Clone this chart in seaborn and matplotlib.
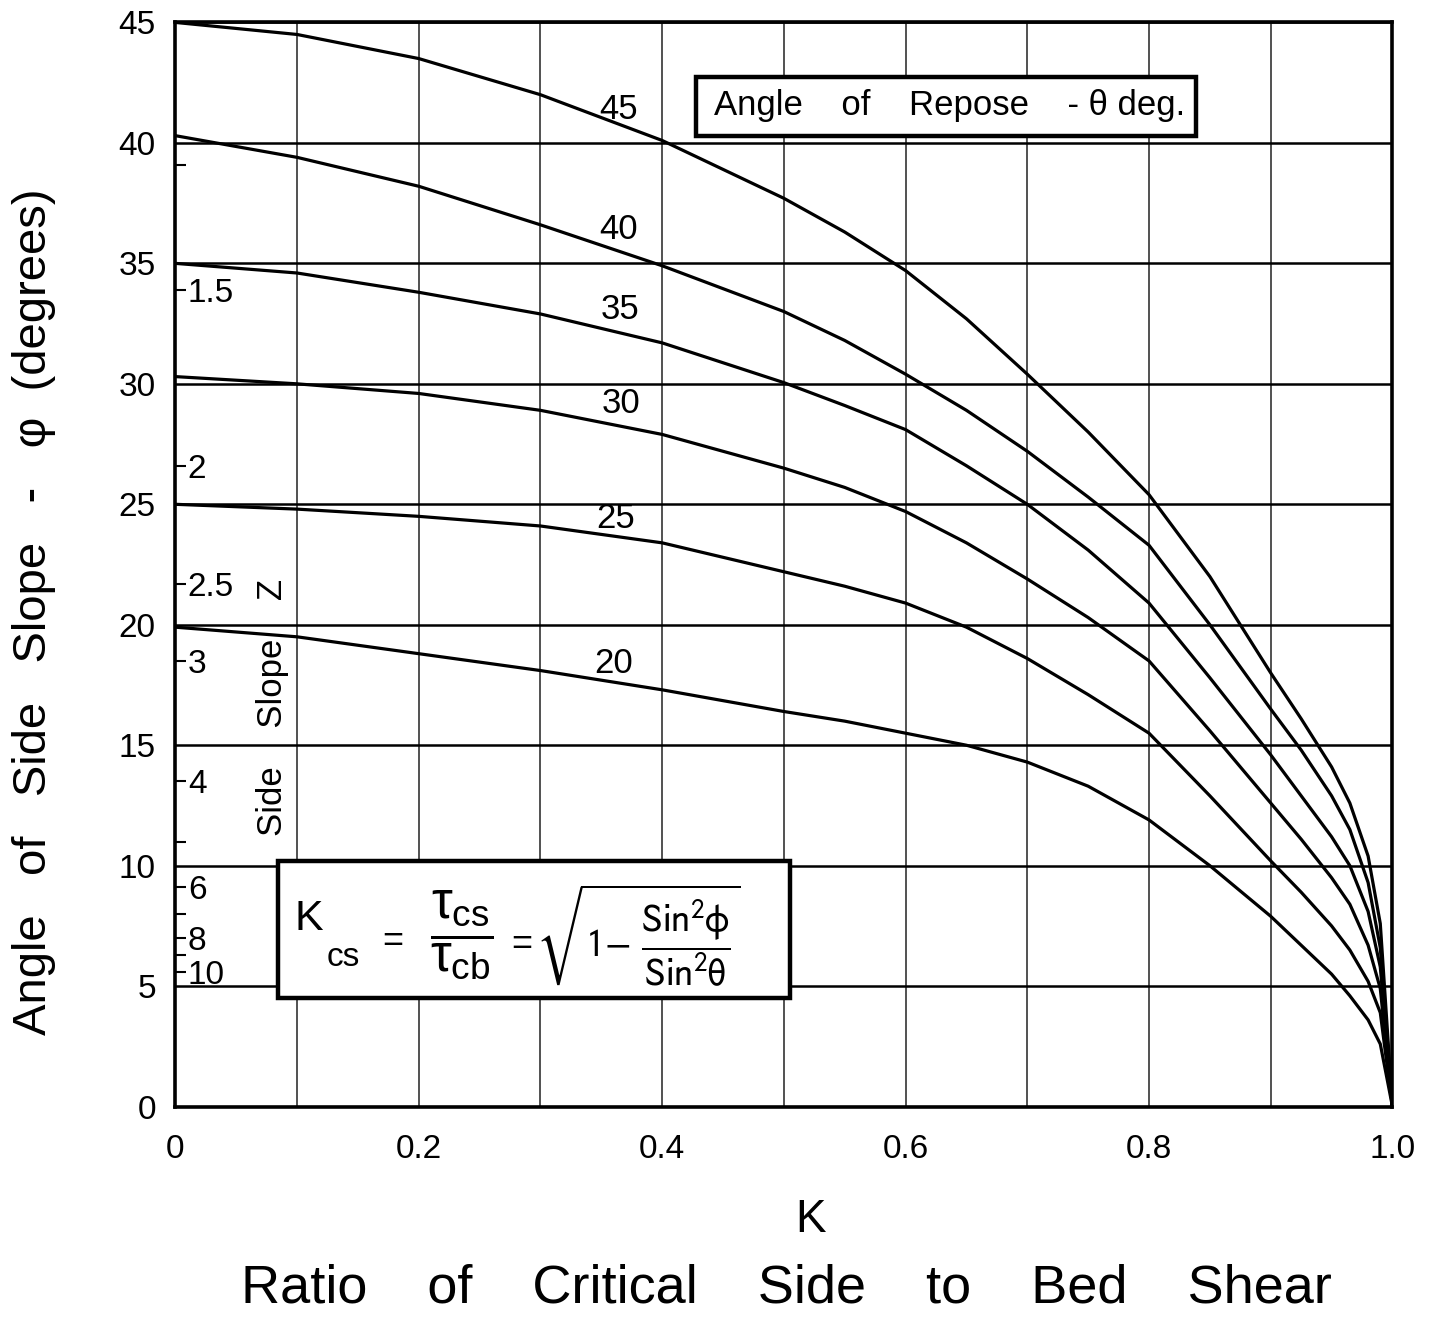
import numpy as np
import pandas as pd
import matplotlib
matplotlib.use("Agg")
import matplotlib.pyplot as plt
from matplotlib.patches import Rectangle
import seaborn as sns

# ---------------- data ----------------
k_ratio = [0, 0.1, 0.2, 0.3, 0.4, 0.5, 0.55, 0.6, 0.65, 0.7, 0.75, 0.8, 0.85,
           0.9, 0.925, 0.95, 0.965, 0.98, 0.99, 1.0]
phi_45 = [45.0, 44.5, 43.5, 42.0, 40.1, 37.7, 36.3, 34.7, 32.7, 30.4, 28.0, 25.4, 22.0,
          18.0, 16.1, 14.1, 12.6, 10.4, 7.6, 0.0]
phi_40 = [40.3, 39.4, 38.2, 36.6, 34.9, 33.0, 31.8, 30.4, 28.9, 27.2, 25.3, 23.3, 20.0,
          16.5, 14.8, 12.9, 11.5, 9.3, 6.6, 0.0]
phi_35 = [35.0, 34.6, 33.8, 32.9, 31.7, 30.05, 29.1, 28.1, 26.6, 25.0, 23.1, 20.9, 17.8,
          14.6, 12.9, 11.2, 10.0, 8.1, 5.8, 0.0]
phi_30 = [30.3, 30.0, 29.6, 28.9, 27.9, 26.5, 25.7, 24.7, 23.4, 21.9, 20.3, 18.5, 15.6,
          12.6, 11.1, 9.5, 8.4, 6.7, 4.9, 0.0]
phi_25 = [25.0, 24.8, 24.5, 24.1, 23.4, 22.2, 21.6, 20.9, 19.9, 18.6, 17.1, 15.5, 12.9,
          10.2, 8.9, 7.5, 6.5, 5.2, 3.9, 0.0]
phi_20 = [19.9, 19.5, 18.8, 18.1, 17.3, 16.4, 16.0, 15.5, 15.0, 14.3, 13.3, 11.9, 10.0,
          7.9, 6.7, 5.5, 4.6, 3.6, 2.6, 0.0]

curve_label_text = ["45", "40", "35", "30", "25", "20"]
curve_label_k = [0.364, 0.364, 0.365, 0.366, 0.362, 0.360]
curve_label_phi = [41.4, 36.4, 33.1, 29.2, 24.4, 18.4]

y_ticks = [0, 5, 10, 15, 20, 25, 30, 35, 40, 45]
y_ticklabels = ["0", "5", "10", "15", "20", "25", "30", "35", "40", "45"]
x_ticks = [0, 0.2, 0.4, 0.6, 0.8, 1.0]
x_ticklabels = ["0", "0.2", "0.4", "0.6", "0.8", "1.0"]
x_minor = [0.1, 0.3, 0.5, 0.7, 0.9]

# side slope Z scale (inside the left axis)
z_angles = [39.1, 33.9, 26.6, 21.7, 18.5, 13.5, 11.0, 9.1, 8.0, 7.0, 6.3, 5.6]
z_labels = ["", "1.5", "2", "2.5", "3", "4", "", "6", "", "8", "", "10"]

series = {45: phi_45, 40: phi_40, 35: phi_35, 30: phi_30, 25: phi_25, 20: phi_20}
df = pd.concat(
    [pd.DataFrame({"K": k_ratio, "phi": v, "theta": t}) for t, v in series.items()],
    ignore_index=True,
)

# ---------------- style ----------------
sns.set_style("white")
plt.rcParams["font.family"] = ["Liberation Sans", "DejaVu Sans"]
plt.rcParams["mathtext.fontset"] = "custom"
plt.rcParams["mathtext.rm"] = "Liberation Sans"
plt.rcParams["mathtext.it"] = "Liberation Sans"
plt.rcParams["mathtext.bf"] = "Liberation Sans:bold"
for key in ["text.color", "axes.labelcolor", "xtick.color", "ytick.color"]:
    plt.rcParams[key] = "black"

fig = plt.figure(figsize=(14.37, 13.19), dpi=100)
ax = fig.add_axes([0.122, 0.161, 0.847, 0.822])

sns.lineplot(data=df, x="K", y="phi", hue="theta", palette=["black"] * 6,
             legend=False, linewidth=2.3, errorbar=None, ax=ax, zorder=3)

ax.set_xlim(0, 1.0)
ax.set_ylim(0, 45)
ax.set_xticks(x_ticks)
ax.set_xticklabels(x_ticklabels)
ax.set_xticks(x_minor, minor=True)
ax.set_yticks(y_ticks)
ax.set_yticklabels(y_ticklabels)
ax.tick_params(axis="both", which="both", length=0)
ax.tick_params(axis="y", labelsize=24, pad=14)
ax.tick_params(axis="x", labelsize=24, pad=20)
ax.grid(True, axis="x", which="both", color="#222222", linewidth=1.1, zorder=1)
ax.grid(True, axis="y", which="major", color="black", linewidth=1.8, zorder=1)
ax.set_axisbelow(True)
for s in ax.spines.values():
    s.set_linewidth(2.6)
    s.set_color("black")
ax.set_xlabel("")
ax.set_ylabel("")

# curve labels
for txt, kx, py in zip(curve_label_text, curve_label_k, curve_label_phi):
    ax.text(kx, py, txt, fontsize=25, ha="center", va="center", zorder=5)

# side-slope Z scale drawn as an inner secondary axis
sec = ax.secondary_yaxis(0.0)
sec.set_alignment("right")
sec.set_yticks(z_angles)
sec.set_yticklabels(z_labels)
sec.tick_params(axis="y", direction="out", length=8, width=1.5, pad=1, labelsize=24)
for s in sec.spines.values():
    s.set_visible(False)

ax.text(0.08, 16.55, "Side    Slope    Z", rotation=90, fontsize=25,
        ha="center", va="center", zorder=5)

# repose box
ax.add_patch(Rectangle((0.428, 40.3), 0.411, 2.45, facecolor="white",
                       edgecolor="black", linewidth=3.2, zorder=4))
ax.text(0.636, 41.55, "Angle    of    Repose    - θ deg.", fontsize=25,
        ha="center", va="center", zorder=5)

# formula box
ax.add_patch(Rectangle((0.0846, 4.5), 0.4204, 5.7, facecolor="white",
                       edgecolor="black", linewidth=3.2, zorder=4))
ax.text(0.0978, 7.8, "K", fontsize=31, ha="left", va="center", zorder=5)
ax.text(0.124, 6.2, "cs", fontsize=24, ha="left", va="center", zorder=5)
ax.text(0.179, 6.86, "=", fontsize=26, ha="center", va="center", zorder=5)
ax.text(0.235, 7.1, r"$\dfrac{\tau_{\mathrm{cs}}}{\tau_{\mathrm{cb}}}$",
        fontsize=38, ha="center", va="center", zorder=5)
ax.text(0.285, 6.74, "=", fontsize=26, ha="center", va="center", zorder=5)
ax.text(0.2966, 7.1,
        r"$\sqrt{1\mathrm{-}\ \dfrac{\mathrm{Sin}^{2}\mathrm{\phi}}{\mathrm{Sin}^{2}\mathrm{\theta}}}$",
        fontsize=28, ha="left", va="center", zorder=5, math_fontfamily="stixsans")

# axis titles
fig.text(0.024, 0.536, "Angle   of   Side   Slope   -   φ  (degrees)", rotation=90,
         fontsize=34, ha="center", va="center")
fig.text(0.564, 0.075, "K", fontsize=33, ha="center", va="center")
fig.text(0.547, 0.0235, "Ratio    of    Critical    Side    to    Bed    Shear",
         fontsize=39, ha="center", va="center")

fig.savefig("out.png", dpi=100, facecolor="white")
